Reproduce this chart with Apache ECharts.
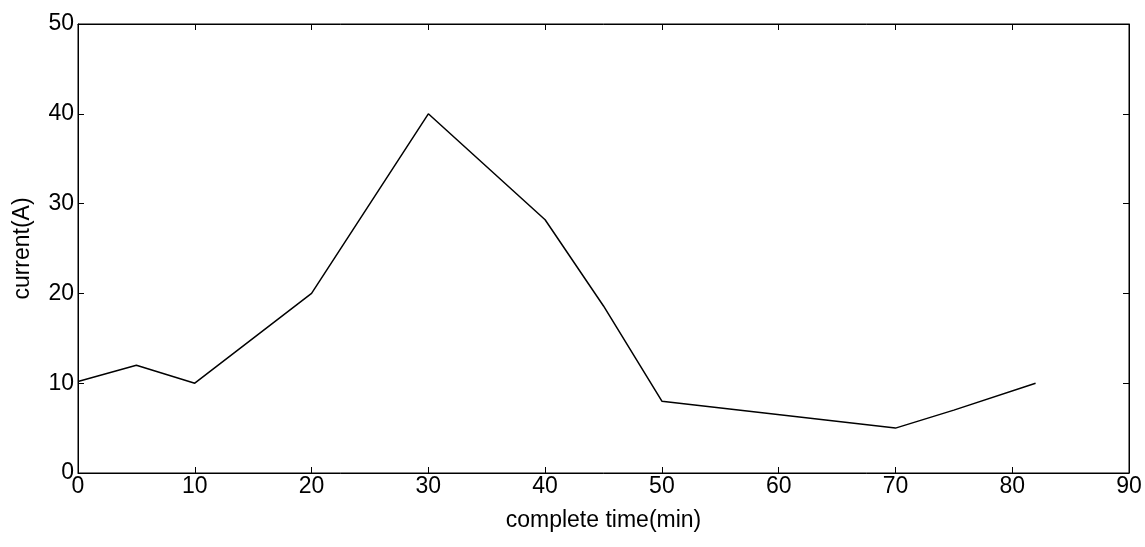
<!DOCTYPE html>
<html><head><meta charset="utf-8">
<script src="https://cdn.jsdelivr.net/npm/echarts@6/dist/echarts.min.js"></script>
<style>html,body{margin:0;background:#fff}#c{width:1145px;height:547px}</style>
</head><body><div id="c"></div>
<script>
// time (min) vs current (A)
var timeMin = [0, 5, 10, 20, 30, 40, 45, 50, 70, 75, 82];
var currentA = [10.2, 12, 10, 20, 40, 28.2, 18.6, 8, 5, 7, 10];

var chart = echarts.init(document.getElementById('c'));
var font = 'Liberation Sans, Arial, sans-serif';
function ax(extra) {
    var o = {
        type: 'value', show: true, min: 0, interval: 10,
        axisLine: {show: true, onZero: false, lineStyle: {color: '#000', width: 1}},
        axisTick: {show: true, inside: true, length: 6, lineStyle: {color: '#000'}},
        splitLine: {show: false}
    };
    for (var k in extra) o[k] = extra[k];
    return o;
}
var labelStyle = {fontFamily: font, fontSize: 23, color: '#000'};
var pts = timeMin.map(function (t, i) { return [t, currentA[i]]; });
chart.setOption({
    animation: false,
    grid: {left: 78, right: 16, top: 24, bottom: 74, show: true, borderColor: '#000', borderWidth: 1},
    xAxis: [
        ax({max: 90, position: 'bottom',
            name: 'complete time(min)', nameLocation: 'middle', nameGap: 36,
            nameTextStyle: labelStyle,
            axisLabel: Object.assign({margin: 2}, labelStyle)}),
        ax({max: 90, position: 'top', axisLabel: {show: false}})
    ],
    yAxis: [
        ax({max: 50, position: 'left',
            name: 'current(A)', nameLocation: 'middle', nameGap: 44,
            nameTextStyle: labelStyle,
            axisLabel: Object.assign({margin: 4}, labelStyle)}),
        ax({max: 50, position: 'right', axisLabel: {show: false}})
    ],
    series: [
        {type: 'line', data: pts, showSymbol: false, lineStyle: {color: '#000', width: 1.5}},
        {type: 'line', xAxisIndex: 1, yAxisIndex: 1, data: [], showSymbol: false}
    ]
});
</script></body></html>
